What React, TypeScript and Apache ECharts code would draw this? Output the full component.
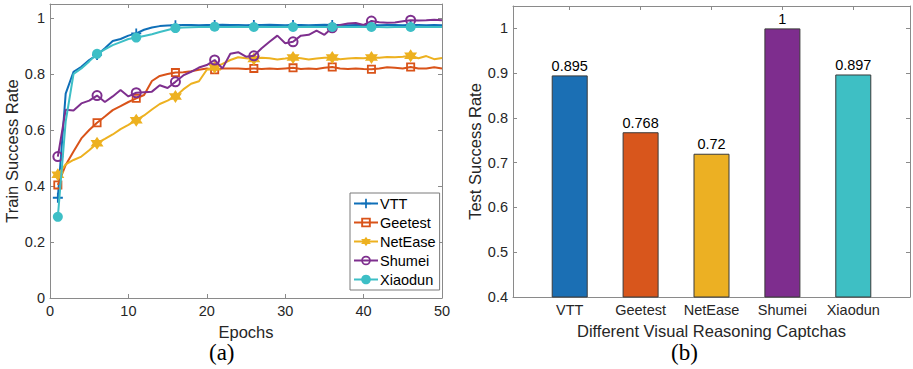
import React, { useEffect, useRef } from "react";
import * as echarts from "echarts";

// ---------- data ----------
const epochs = Array.from({ length: 50 }, (_, i) => i + 1);
const markerEvery = 5;

const vtt = [
  0.358, 0.73, 0.808, 0.826, 0.85, 0.868, 0.892, 0.918, 0.925, 0.937,
  0.945, 0.958, 0.966, 0.971, 0.973, 0.974, 0.975, 0.975, 0.974, 0.975,
  0.975, 0.976, 0.975, 0.975, 0.974, 0.975, 0.975, 0.976, 0.975, 0.974,
  0.975, 0.975, 0.974, 0.975, 0.976, 0.975, 0.975, 0.974, 0.975, 0.975,
  0.975, 0.974, 0.975, 0.975, 0.974, 0.975, 0.975, 0.974, 0.975, 0.974,
];
const geetest = [
  0.404, 0.475, 0.523, 0.57, 0.6, 0.626, 0.648, 0.671, 0.685, 0.7,
  0.713, 0.725, 0.775, 0.793, 0.8, 0.805, 0.806, 0.81, 0.815, 0.82,
  0.815, 0.82, 0.82, 0.82, 0.818, 0.82, 0.818, 0.82, 0.818, 0.82,
  0.822, 0.818, 0.82, 0.818, 0.822, 0.825, 0.82, 0.818, 0.82, 0.818,
  0.817, 0.82, 0.824, 0.822, 0.82, 0.825, 0.82, 0.82, 0.824, 0.82,
];
const netease = [
  0.44, 0.477, 0.493, 0.505, 0.528, 0.553, 0.568, 0.584, 0.603, 0.618,
  0.635, 0.652, 0.673, 0.693, 0.705, 0.72, 0.745, 0.765, 0.774, 0.815,
  0.824, 0.836, 0.85, 0.86, 0.856, 0.854, 0.858, 0.856, 0.852, 0.855,
  0.859, 0.856, 0.852, 0.855, 0.858, 0.859, 0.853, 0.855, 0.857, 0.856,
  0.859, 0.858, 0.861, 0.86, 0.862, 0.865, 0.856, 0.864, 0.853, 0.857,
];
const shumei = [
  0.505, 0.672, 0.67, 0.695, 0.705, 0.723, 0.7, 0.72, 0.743, 0.72,
  0.733, 0.735, 0.737, 0.76, 0.75, 0.772, 0.795, 0.808, 0.823, 0.832,
  0.85, 0.82, 0.872, 0.878, 0.862, 0.865, 0.892, 0.915, 0.937, 0.91,
  0.915, 0.937, 0.94, 0.955, 0.94, 0.965, 0.975, 0.98, 0.982, 0.975,
  0.989, 0.985, 0.983, 0.984, 0.988, 0.992, 0.991, 0.992, 0.994, 0.992,
];
const xiaodun = [
  0.29, 0.63, 0.8, 0.82, 0.845, 0.872, 0.888, 0.903, 0.914, 0.925,
  0.93, 0.936, 0.942, 0.95, 0.957, 0.964, 0.966, 0.967, 0.968, 0.968,
  0.969, 0.968, 0.968, 0.969, 0.968, 0.968, 0.969, 0.968, 0.968, 0.969,
  0.968, 0.968, 0.969, 0.968, 0.968, 0.968, 0.969, 0.968, 0.968, 0.969,
  0.968, 0.968, 0.967, 0.968, 0.968, 0.968, 0.969, 0.968, 0.968, 0.968,
];

const captchas = ["VTT", "Geetest", "NetEase", "Shumei", "Xiaodun"];
const testRates = [0.895, 0.768, 0.72, 1, 0.897];
const barPositions = [1, 2, 3, 4, 5];

const leftYTicks = [0, 0.2, 0.4, 0.6, 0.8, 1];
const rightYTicks = [0.4, 0.5, 0.6, 0.7, 0.8, 0.9, 1];

// ---------- styles ----------
const colors = ["#0f6fb8", "#d95319", "#edb120", "#7e2f8e", "#3dbfc6"];
const barColors = ["#1b6fb4", "#d8561c", "#ecb023", "#7e2d8e", "#3ebfc4"];
const AXIS = "#8a8a8a";
const TXT = "#262626";
const FONT = "'Liberation Sans', Arial, sans-serif";
const TICK_FS = 14.5;
const NAME_FS = 16.5;

function hexagramPath() {
  const pts: string[] = [];
  for (let k = 0; k < 12; k++) {
    const a = ((-90 + 30 * k) * Math.PI) / 180;
    const r = k % 2 === 0 ? 5 : 2.887;
    pts.push(`${(5 + r * Math.cos(a)).toFixed(3)},${(5 + r * Math.sin(a)).toFixed(3)}`);
  }
  return "path://M" + pts.join("L") + "Z";
}

const symbols = [
  "path://M4.1,0H5.9V4.1H10V5.9H5.9V10H4.1V5.9H0V4.1H4.1Z",
  "path://M0,0H10V10H0ZM2,2V8H8V2Z",
  hexagramPath(),
  "path://M5,0A5,5 0 1 1 5,10A5,5 0 1 1 5,0ZM5,1.8A3.2,3.2 0 1 0 5,8.2A3.2,3.2 0 1 0 5,1.8Z",
  "circle",
];
const symbolSizes = [10, 9, 13, 11, 10];

export default function App() {
  const ref = useRef<HTMLDivElement>(null);
  useEffect(() => {
    if (!ref.current) return;
    const chart = echarts.init(ref.current, undefined, { renderer: "svg" });

    const lineNames = captchas;
    const lineData = [vtt, geetest, netease, shumei, xiaodun];

    const frameAxis = (extra: any) => ({
      axisLine: { show: true, onZero: false, lineStyle: { color: AXIS, width: 1 } },
      axisTick: { show: true, inside: true, length: 4, lineStyle: { color: AXIS } },
      splitLine: { show: false },
      ...extra,
    });
    const tickLabel = { color: TXT, fontSize: TICK_FS, margin: 5, fontFamily: FONT };
    const nameStyle = { fontSize: NAME_FS, color: TXT, fontFamily: FONT };

    const option: any = {
      animation: false,
      textStyle: { fontFamily: FONT },
      grid: [
        { left: 50, top: 4, width: 392, height: 294 },
        { left: 513, top: 6, width: 397, height: 291 },
      ],
      legend: {
        data: lineNames,
        orient: "vertical",
        left: 350,
        top: 193,
        padding: [3, 4, 3, 3],
        itemWidth: 24,
        itemHeight: 12,
        itemGap: 4,
        backgroundColor: "#fff",
        borderColor: "#7a7a7a",
        borderWidth: 1,
        textStyle: { fontSize: TICK_FS, color: "#000", fontFamily: FONT, padding: [0, 0, 0, -3] },
      },
      xAxis: [
        frameAxis({
          type: "value",
          gridIndex: 0,
          min: 0,
          max: 50,
          interval: 10,
          position: "bottom",
          name: "Epochs",
          nameLocation: "middle",
          nameGap: 25,
          nameTextStyle: nameStyle,
          axisLabel: tickLabel,
        }),
        frameAxis({
          type: "value",
          gridIndex: 0,
          min: 0,
          max: 50,
          interval: 10,
          position: "top",
          axisLabel: { show: false },
        }),
        frameAxis({
          type: "value",
          gridIndex: 1,
          min: 0.2,
          max: 5.8,
          position: "bottom",
          name: "Different Visual Reasoning Captchas",
          nameLocation: "middle",
          nameGap: 25,
          nameTextStyle: nameStyle,
          axisTick: { show: true, inside: true, length: 4, lineStyle: { color: AXIS }, customValues: barPositions },
          axisLabel: {
            ...tickLabel,
            customValues: barPositions,
            formatter: (v: number) => captchas[Math.round(v) - 1] ?? "",
          },
        }),
        frameAxis({
          type: "value",
          gridIndex: 1,
          min: 0.2,
          max: 5.8,
          position: "top",
          axisTick: { show: true, inside: true, length: 4, lineStyle: { color: AXIS }, customValues: barPositions },
          axisLabel: { show: false },
        }),
      ],
      yAxis: [
        frameAxis({
          type: "value",
          gridIndex: 0,
          min: 0,
          max: 1.05,
          position: "left",
          name: "Train Success Rate",
          nameLocation: "middle",
          nameGap: 29,
          nameTextStyle: nameStyle,
          axisTick: { show: true, inside: true, length: 4, lineStyle: { color: AXIS }, customValues: leftYTicks },
          axisLabel: { ...tickLabel, customValues: leftYTicks },
        }),
        frameAxis({
          type: "value",
          gridIndex: 0,
          min: 0,
          max: 1.05,
          position: "right",
          axisTick: { show: true, inside: true, length: 4, lineStyle: { color: AXIS }, customValues: leftYTicks },
          axisLabel: { show: false },
        }),
        frameAxis({
          type: "value",
          gridIndex: 1,
          min: 0.4,
          max: 1.05,
          position: "left",
          name: "Test Success Rate",
          nameLocation: "middle",
          nameGap: 29,
          nameTextStyle: nameStyle,
          axisTick: { show: true, inside: true, length: 4, lineStyle: { color: AXIS }, customValues: rightYTicks },
          axisLabel: { ...tickLabel, customValues: rightYTicks },
        }),
        frameAxis({
          type: "value",
          gridIndex: 1,
          min: 0.4,
          max: 1.05,
          position: "right",
          axisTick: { show: true, inside: true, length: 4, lineStyle: { color: AXIS }, customValues: rightYTicks },
          axisLabel: { show: false },
        }),
      ],
      series: [
        ...lineNames.map((name, si) => ({
          name,
          type: "line",
          xAxisIndex: 0,
          yAxisIndex: 0,
          symbol: symbols[si],
          symbolSize: symbolSizes[si],
          showAllSymbol: true,
          lineStyle: { color: colors[si], width: 2 },
          itemStyle: { color: colors[si] },
          data: epochs.map((e, i) =>
            (e - 1) % markerEvery === 0
              ? { value: [e, lineData[si][i]] }
              : { value: [e, lineData[si][i]], symbol: "none" }
          ),
          z: 2 + si,
        })),
        {
          type: "bar",
          xAxisIndex: 2,
          yAxisIndex: 2,
          barWidth: 36,
          data: barPositions.map((p, i) => ({
            value: [p, testRates[i]],
            itemStyle: { color: barColors[i], borderColor: "#3a3a3a", borderWidth: 1 },
          })),
          label: {
            show: true,
            position: "top",
            distance: 2,
            color: "#000",
            fontSize: TICK_FS,
            fontFamily: FONT,
            formatter: (p: any) => String(p.value[1]),
          },
        },
      ],
      graphic: [
        {
          type: "text",
          left: 209,
          top: 341,
          style: { text: "(a)", font: "23px 'Liberation Serif', 'DejaVu Serif', serif", fill: "#000" },
        },
        {
          type: "text",
          left: 671,
          top: 341,
          style: { text: "(b)", font: "23px 'Liberation Serif', 'DejaVu Serif', serif", fill: "#000" },
        },
      ],
    };
    chart.setOption(option);
    return () => chart.dispose();
  }, []);
  return (
    <div
      ref={ref}
      style={{ position: "fixed", left: 0, top: 0, width: 913, height: 369, background: "#fff" }}
    />
  );
}
